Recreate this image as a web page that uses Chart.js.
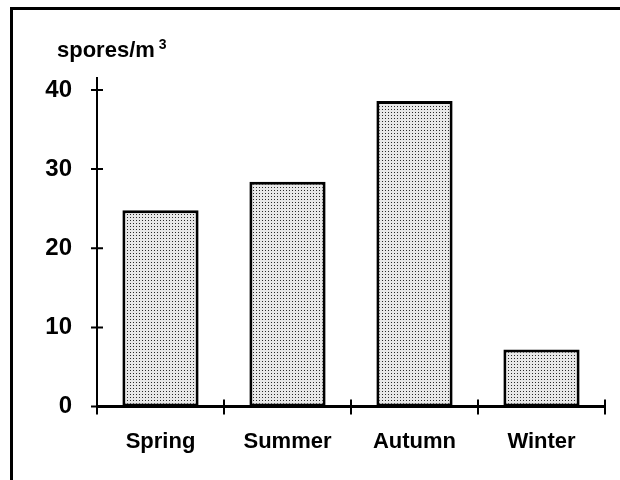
<!DOCTYPE html>
<html>
<head>
<meta charset="utf-8">
<script src="https://cdn.jsdelivr.net/npm/chart.js@4.4.1/dist/chart.umd.min.js"></script>
<style>
  html, body { margin: 0; padding: 0; background: #fff; }
  #wrap { position: relative; width: 620px; height: 480px; }
  #frame { position: absolute; left: 10px; top: 7px; right: 0; bottom: 0;
           border-top: 3px solid #000; border-left: 3px solid #000; pointer-events: none; }
  canvas { position: absolute; left: 0; top: 0; }
</style>
</head>
<body>
<div id="wrap">
  <canvas id="seasonChart" width="620" height="480"></canvas>
  <div id="frame"></div>
</div>
<script>
// spore counts per season
const seasons = ['Spring', 'Summer', 'Autumn', 'Winter'];
const sporeCounts = [24.8, 28.4, 38.6, 7.2];
const yTicks = [0, 10, 20, 30, 40];
const yUnit = 'spores/m';
const yUnitSup = '3';

const FAMILY = '"Liberation Sans", Arial, sans-serif';
const FONT_X = { family: FAMILY, size: 22, weight: 'bold' };
const FONT_Y = { family: FAMILY, size: 24, weight: 'bold' };

// stippled grey fill like the old print
function makeStipple() {
    const c = document.createElement('canvas');
    c.width = 3; c.height = 3;
    const g = c.getContext('2d');
    g.fillStyle = '#e8e8e8';
    g.fillRect(0, 0, 3, 3);
    g.fillStyle = '#2a2a2a';
    g.fillRect(1, 1, 1, 1);
    return g.createPattern(c, 'repeat');
}

// ticks that cross the axis lines + the unit label above the y axis
const axisExtras = {
    id: 'axisExtras',
    afterDraw(chart) {
        const { ctx, chartArea, scales } = chart;
        const x = scales.x, y = scales.y;
        ctx.save();
        ctx.strokeStyle = '#000';
        ctx.lineWidth = 2;
        ctx.beginPath();
        yTicks.forEach(v => {
            const py = y.getPixelForValue(v);
            ctx.moveTo(chartArea.left - 6, py);
            ctx.lineTo(chartArea.left + 6, py);
        });
        const step = x.getPixelForValue(1) - x.getPixelForValue(0);
        for (let i = 0; i <= seasons.length; i++) {
            const px = x.getPixelForValue(0) - step / 2 + i * step;
            ctx.moveTo(px, chartArea.bottom - 7);
            ctx.lineTo(px, chartArea.bottom + 8);
        }
        ctx.stroke();

        // unit text
        ctx.fillStyle = '#000';
        ctx.textBaseline = 'alphabetic';
        ctx.textAlign = 'left';
        ctx.font = 'bold 22px ' + FAMILY;
        const ux = chartArea.left - 40;
        const uy = chartArea.top - 21;
        ctx.fillText(yUnit, ux, uy);
        const w = ctx.measureText(yUnit).width;
        ctx.font = 'bold 14px ' + FAMILY;
        ctx.fillText(yUnitSup, ux + w + 4, uy - 8);
        ctx.restore();
    }
};

const ctx = document.getElementById('seasonChart').getContext('2d');
new Chart(ctx, {
    type: 'bar',
    data: {
        labels: seasons,
        datasets: [{
            data: sporeCounts,
            backgroundColor: makeStipple(),
            borderColor: '#000',
            borderWidth: 3,
            borderSkipped: false,
            barPercentage: 0.6,
            categoryPercentage: 1.0
        }]
    },
    options: {
        responsive: false,
        animation: false,
        layout: { padding: { left: 30, right: 15, top: 78, bottom: 11 } },
        plugins: {
            legend: { display: false },
            tooltip: { enabled: false },
            title: { display: false }
        },
        scales: {
            x: {
                grid: { display: false, offset: true },
                border: { color: '#000', width: 3 },
                ticks: { color: '#000', font: FONT_X, padding: 14 }
            },
            y: {
                min: 0,
                max: 41.5,
                afterFit(scale) { scale.width = 67; },
                grid: { display: false },
                border: { color: '#000', width: 2 },
                ticks: {
                    stepSize: 10,
                    includeBounds: false,
                    color: '#000',
                    font: FONT_Y,
                    padding: 17
                }
            }
        }
    },
    plugins: [axisExtras]
});
</script>
</body>
</html>
